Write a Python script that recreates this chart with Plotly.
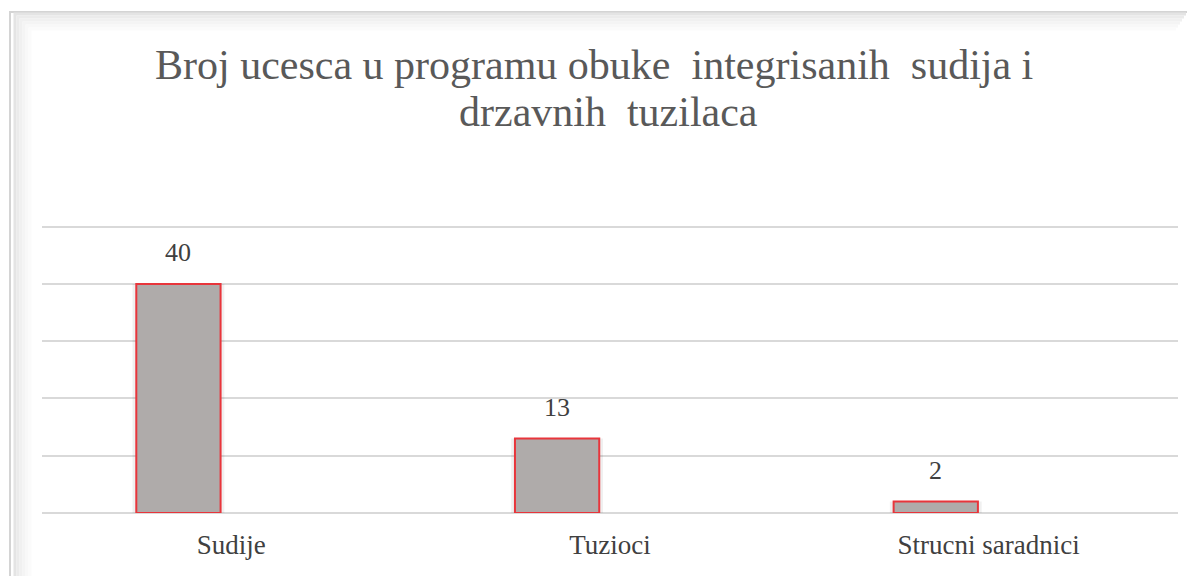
import plotly.graph_objects as go

categories = ["Sudije", "Tuzioci", "Strucni saradnici"]
values = [40, 13, 2]
title_lines = ["Broj ucesca u programu obuke  integrisanih  sudija i", "drzavnih  tuzilaca"]

# page has an 8px body margin, so the figure is sized/positioned to compensate
W, H = 1187, 568
L, R, T, B = 34, 17, 213, 63
pw, ph = W - L - R, H - T - B

def px(x):
    return (x - L) / pw

def py(y):
    return (H - B - y) / ph

fig = go.Figure()

# soft shadow behind bars
fig.add_trace(go.Bar(
    x=categories, y=values, width=0.2226 + 0.02, offset=-0.251 - 0.01,
    marker=dict(color="rgba(0,0,0,0.06)", line=dict(width=0)),
    hoverinfo="skip", showlegend=False,
))
fig.add_trace(go.Bar(
    x=categories, y=values, width=0.2226, offset=-0.251,
    marker=dict(color="#afabaa", line=dict(color="#e8353b", width=2)),
    showlegend=False,
))

for c, v in zip(categories, values):
    fig.add_annotation(x=c, y=v, text=str(v), showarrow=False, xshift=-53,
                       yshift=31, font=dict(family="Liberation Serif", size=26, color="#404040"))

for i, (line, yc, xc) in enumerate(zip(title_lines, [57, 104], [586, 600])):
    fig.add_annotation(xref="paper", yref="paper", x=px(xc), y=py(yc), xanchor="center",
                       yanchor="middle", text=line, showarrow=False,
                       font=dict(family="Liberation Serif", size=42, color="#595959"))

shapes = []
shapes.append(dict(type="rect", xref="paper", yref="paper",
                   x0=px(2), x1=px(1180), y0=py(600), y1=py(4),
                   line=dict(color="#d4d4d4", width=2), layer="below"))
grads = ["#e4e4e4", "#ebebeb", "#f0f0f0", "#f4f4f4", "#f8f8f8", "#fbfbfb"]
for i, col in enumerate(grads):
    off = 7 + i * 3
    shapes.append(dict(type="path", xref="paper", yref="paper",
                       path=f"M {px(off)} {py(600)} L {px(off)} {py(off - 1)} L {px(1178 - i*2)} {py(off - 1)}",
                       line=dict(color=col, width=3), layer="below"))
fig.update_layout(shapes=shapes)

fig.update_layout(
    width=W, height=H,
    margin=dict(l=L, r=R, t=T, b=B),
    paper_bgcolor="white", plot_bgcolor="white",
    barmode="overlay",
    xaxis=dict(showgrid=False, showline=False, zeroline=False, ticks="outside", ticklen=8,
               tickcolor="rgba(0,0,0,0)",
               tickfont=dict(family="Liberation Serif", size=27, color="#404040")),
    yaxis=dict(range=[0, 51], tickvals=[0, 10, 20, 30, 40, 50], showticklabels=False, showgrid=True,
               gridcolor="#d9d9d9", gridwidth=1.5, zeroline=True, zerolinecolor="#d9d9d9",
               zerolinewidth=1.5, showline=False),
    font=dict(family="Liberation Serif"),
)

fig.write_html("out.html")
